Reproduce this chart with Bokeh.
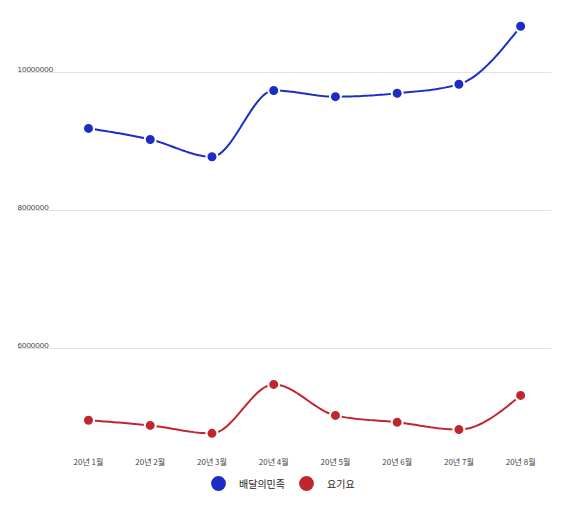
import numpy as np
from bokeh.plotting import figure
from bokeh.models import ColumnDataSource, FixedTicker, Legend, LegendItem
from bokeh.core.properties import value
from bokeh.embed import file_html
from bokeh.resources import INLINE

# ---- data ----
months = ["20년 1월", "20년 2월", "20년 3월", "20년 4월", "20년 5월", "20년 6월", "20년 7월", "20년 8월"]
baemin = [9190000, 9030000, 8780000, 9740000, 9650000, 9700000, 9830000, 10670000]
yogiyo = [4960000, 4885000, 4770000, 5480000, 5030000, 4930000, 4825000, 5320000]
series_names = ["배달의민족", "요기요"]
y_ticks = [6000000, 8000000, 10000000]
y_tick_labels = ["6000000", "8000000", "10000000"]

BLUE = "#1c2cc4"
RED = "#c0262e"
X_START, X_END = -1.15, 7.5
Y_START, Y_END = 3739000, 10899000


def monotone(xs, ys, n=24):
    """Monotone-cubic (d3 curveMonotoneX style) rendering through the data points."""
    x = np.asarray(xs, float)
    y = np.asarray(ys, float)
    h = np.diff(x)
    s = np.diff(y) / h
    m = np.zeros_like(y)
    for i in range(1, len(y) - 1):
        p = (s[i - 1] * h[i] + s[i] * h[i - 1]) / (h[i - 1] + h[i])
        m[i] = (np.sign(s[i - 1]) + np.sign(s[i])) * min(abs(s[i - 1]), abs(s[i]), 0.5 * abs(p))
    m[0] = (3 * s[0] - m[1]) / 2
    m[-1] = (3 * s[-1] - m[-2]) / 2
    t = np.linspace(0, 1, n, endpoint=False)
    ox, oy = [], []
    for i in range(len(y) - 1):
        h00 = 2 * t**3 - 3 * t**2 + 1
        h10 = t**3 - 2 * t**2 + t
        h01 = -2 * t**3 + 3 * t**2
        h11 = t**3 - t**2
        ox.extend(x[i] + t * h[i])
        oy.extend(h00 * y[i] + h10 * h[i] * m[i] + h01 * y[i + 1] + h11 * h[i] * m[i + 1])
    ox.append(x[-1])
    oy.append(y[-1])
    return ox, oy


xi = list(range(len(months)))

p = figure(width=566, height=508, x_range=(X_START, X_END), y_range=(Y_START, Y_END),
           toolbar_location=None, output_backend="svg",
           x_axis_location=None, y_axis_location=None,
           min_border_left=17, min_border_right=15, min_border_top=10, min_border_bottom=4)
p.outline_line_color = None
p.background_fill_color = "white"
p.border_fill_color = "white"

p.xgrid.visible = False
p.ygrid.ticker = FixedTicker(ticks=y_ticks)
p.ygrid.grid_line_color = "#e3e3e3"
p.ygrid.grid_line_width = 1

# category labels under the plotting area
p.text(x=xi, y=[Y_START] * len(xi), text=months,
       text_font=value("Noto Sans CJK KR"), text_font_size="8px", text_color="#444444",
       text_align="center", text_baseline="middle", y_offset=-43)

# y tick labels sitting on the gridlines
p.text(x=[X_START] * len(y_ticks), y=y_ticks, text=y_tick_labels,
       text_font=value("Liberation Sans"), text_font_size="8px", text_color="#444444",
       text_align="left", text_baseline="bottom", y_offset=-1)

renderers = []
for vals, col in ((baemin, BLUE), (yogiyo, RED)):
    sx, sy = monotone(xi, vals)
    p.line(sx, sy, line_color=col, line_width=2)
    src = ColumnDataSource(dict(x=xi, y=vals))
    r = p.scatter("x", "y", source=src, size=11, fill_color=col, line_color="white", line_width=2)
    renderers.append(r)

legend = Legend(items=[LegendItem(label=n, renderers=[r]) for n, r in zip(series_names, renderers)],
                orientation="horizontal", location=(180, 0), glyph_width=42, glyph_height=42,
                label_standoff=-2, spacing=-5, padding=0, margin=0, border_line_color=None,
                background_fill_alpha=0, label_text_font_size="10px",
                label_text_font="Noto Sans CJK KR", label_text_color="#222222")
p.add_layout(legend, "center")

open("out.html", "w").write(file_html(p, INLINE))
